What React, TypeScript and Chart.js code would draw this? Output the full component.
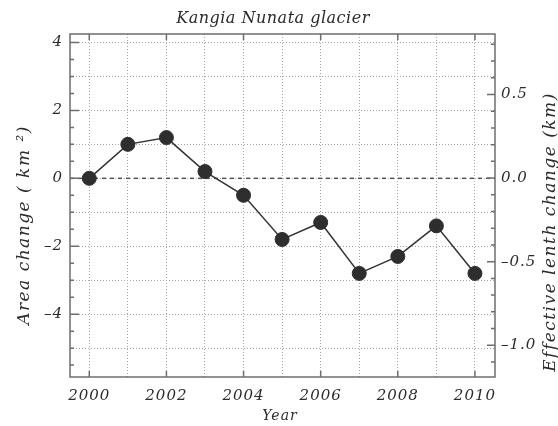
import React, { useEffect, useRef } from "react";
import { Chart, registerables } from "chart.js";

Chart.register(...registerables);

const years = [2000, 2001, 2002, 2003, 2004, 2005, 2006, 2007, 2008, 2009, 2010];
const areaChange = [0, 1.0, 1.2, 0.2, -0.5, -1.8, -1.3, -2.8, -2.3, -1.4, -2.8];
const xTickLabels = [2000, 2002, 2004, 2006, 2008, 2010];
const leftTickLabels = [4, 2, 0, -2, -4];
const rightTickLabels = [0.5, 0.0, -0.5, -1.0];
const chartTitle = "Kangia Nunata glacier";
const xTitle = "Year";
const leftTitle = "Area change ( km ²)";
const rightTitle = "Effective lenth change (km)";

const FONT = "'DejaVu Serif', 'Liberation Serif', serif";
const TEXT = "#2b2b2b";
const FRAME = "#6e6e6e";

const minus = (s: string) => s.replace("-", "\u2013");

const decorPlugin = {
  id: "decor",
  beforeDraw(chart: any) {
    (chart.ctx as any).letterSpacing = "1px";
  },
  beforeDatasetsDraw(chart: any) {
    const { ctx, chartArea } = chart;
    const y = chart.scales.y;
    const y0 = y.getPixelForValue(0);
    ctx.save();
    ctx.strokeStyle = "#555";
    ctx.lineWidth = 1.5;
    ctx.setLineDash([4, 4]);
    ctx.beginPath();
    ctx.moveTo(chartArea.left, y0);
    ctx.lineTo(chartArea.right, y0);
    ctx.stroke();
    ctx.restore();
  },
  afterDraw(chart: any) {
    const { ctx, chartArea } = chart;
    const { left, right, top, bottom } = chartArea;
    const x = chart.scales.x;
    const y = chart.scales.y;
    const y1 = chart.scales.y1;
    ctx.save();
    ctx.strokeStyle = FRAME;
    ctx.lineWidth = 1.5;
    ctx.setLineDash([]);
    ctx.strokeRect(left, top, right - left, bottom - top);
    ctx.beginPath();
    for (const v of xTickLabels) {
      const px = x.getPixelForValue(v);
      ctx.moveTo(px, bottom);
      ctx.lineTo(px, bottom - 6);
      ctx.moveTo(px, top);
      ctx.lineTo(px, top + 6);
    }
    for (let k = -11; k <= 8; k++) {
      const v = k * 0.5;
      if (v < y.min || v > y.max) continue;
      const py = y.getPixelForValue(v);
      const len = leftTickLabels.includes(v) ? 9 : 4;
      ctx.moveTo(left, py);
      ctx.lineTo(left + len, py);
    }
    for (let k = -11; k <= 8; k++) {
      const v = k / 10;
      if (v < y1.min || v > y1.max) continue;
      const py = y1.getPixelForValue(v);
      const len = k % 5 === 0 ? 8 : 4;
      ctx.moveTo(right, py);
      ctx.lineTo(right - len, py);
    }
    ctx.stroke();

    ctx.fillStyle = TEXT;
    ctx.textAlign = "center";
    ctx.textBaseline = "middle";
    (ctx as any).letterSpacing = "0.5px";
    ctx.font = `italic 16px ${FONT}`;
    ctx.fillText(chartTitle, 273, 19);
    (ctx as any).letterSpacing = "1px";
    ctx.font = `italic 14px ${FONT}`;
    ctx.fillText(xTitle, 280, 416);
    (ctx as any).letterSpacing = "1.5px";
    ctx.font = `italic 17px ${FONT}`;
    ctx.save();
    ctx.translate(25, 225);
    ctx.rotate(-Math.PI / 2);
    ctx.fillText(leftTitle, 0, 0);
    ctx.restore();
    ctx.save();
    ctx.translate(551, 232);
    ctx.rotate(-Math.PI / 2);
    ctx.fillText(rightTitle, 0, 0);
    ctx.restore();
    ctx.restore();
    (ctx as any).letterSpacing = "0px";
  },
};

export default function App() {
  const ref = useRef<HTMLCanvasElement | null>(null);
  useEffect(() => {
    if (!ref.current) return;
    const tickFont = { family: FONT, style: "italic" as const, size: 15 };
    const chart = new Chart(ref.current, {
      type: "line",
      data: {
        datasets: [
          {
            data: years.map((yr, i) => ({ x: yr, y: areaChange[i] })),
            yAxisID: "y",
            borderColor: "#333",
            borderWidth: 1.5,
            pointRadius: 7,
            pointHoverRadius: 7,
            pointBackgroundColor: "#2e2e2e",
            pointBorderColor: "#2e2e2e",
            pointBorderWidth: 1,
            tension: 0,
          },
        ],
      },
      options: {
        animation: false,
        responsive: false,
        layout: { padding: { top: 34, left: 0, right: 0, bottom: 0 } },
        plugins: { legend: { display: false }, title: { display: false }, tooltip: { enabled: false } },
        scales: {
          x: {
            type: "linear",
            min: 1999.5,
            max: 2010.52,
            afterFit: (s: any) => { s.height = 49; },
            ticks: {
              stepSize: 1,
              includeBounds: false,
              autoSkip: false,
              maxRotation: 0,
              padding: 10,
              color: TEXT,
              font: tickFont,
              callback: (v: any) => (xTickLabels.includes(Math.round(Number(v))) && Math.abs(Number(v) - Math.round(Number(v))) < 1e-6 ? String(Math.round(Number(v))) : ""),
            },
            grid: { color: "#a8a8a8", lineWidth: 1, drawTicks: false },
            border: { display: false, dash: [1, 2] },
          },
          y: {
            type: "linear",
            position: "left",
            min: -5.85,
            max: 4.25,
            afterFit: (s: any) => { s.width = 70; },
            ticks: {
              stepSize: 1,
              includeBounds: false,
              autoSkip: false,
              padding: 7,
              color: TEXT,
              font: tickFont,
              callback: (v: any) => (leftTickLabels.includes(Number(v)) ? minus(String(v)) : ""),
            },
            grid: { color: "#a8a8a8", lineWidth: 1, drawTicks: false },
            border: { display: false, dash: [1, 2] },
          },
          y1: {
            type: "linear",
            position: "right",
            min: -1.19,
            max: 0.862,
            afterFit: (s: any) => { s.width = 63; },
            ticks: {
              stepSize: 0.5,
              includeBounds: false,
              autoSkip: false,
              padding: 6,
              color: TEXT,
              font: tickFont,
              callback: (v: any) => {
                const n = Number(v);
                return rightTickLabels.some((r) => Math.abs(r - n) < 1e-6) ? minus(n.toFixed(1)) : "";
              },
            },
            grid: { display: false, drawTicks: false },
            border: { display: false },
          },
        },
      },
      plugins: [decorPlugin],
    });
    return () => chart.destroy();
  }, []);
  return (
    <div style={{ position: "absolute", left: 0, top: 0, width: 558, height: 426, background: "#fff" }}>
      <canvas ref={ref} width={558} height={426} />
    </div>
  );
}
